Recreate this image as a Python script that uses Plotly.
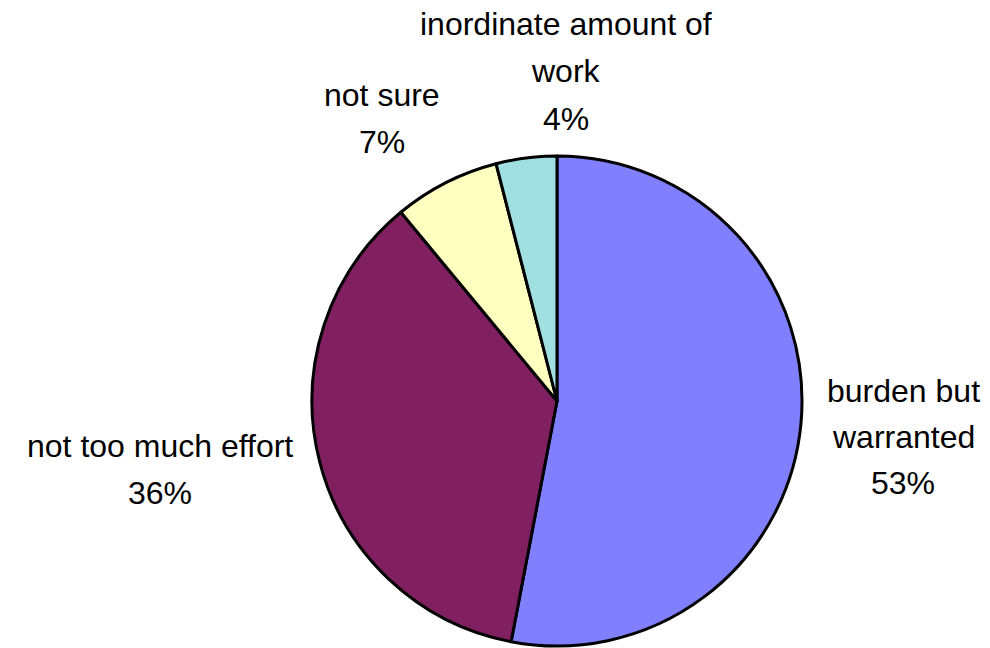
import plotly.graph_objects as go

# Survey responses (percent of respondents)
categories = ["burden but warranted", "not too much effort", "not sure", "inordinate amount of work"]
values = [53, 36, 7, 4]
colors = ["#8080FF", "#802060", "#FFFFC0", "#A0E0E0"]

# Label text broken into display lines
label_lines = [
    ["burden but", "warranted"],
    ["not too much effort"],
    ["not sure"],
    ["inordinate amount of", "work"],
]
# Label block anchors: centre x and first-line baseline (px), line step (px)
label_x = [903, 160, 382, 566]
label_base = [402, 457, 106, 35]
line_step = [46, 47, 47, 47.5]

W, H = 990, 648
FONT = 32

fig = go.Figure(
    go.Pie(
        labels=categories,
        values=values,
        sort=False,
        direction="clockwise",
        rotation=0,
        textinfo="none",
        hoverinfo="label+percent",
        marker=dict(colors=colors, line=dict(color="#000000", width=3)),
        domain=dict(x=[312 / W, 802 / W], y=[2 / H, 492 / H]),
        showlegend=False,
    )
)

annotations = []
for lines, v, cx, base, step in zip(label_lines, values, label_x, label_base, line_step):
    for i, txt in enumerate(lines + [f"{v}%"]):
        baseline = base + i * step
        annotations.append(
            dict(
                x=cx / W,
                y=(H - (baseline - 0.35 * FONT)) / H,
                xref="paper",
                yref="paper",
                text=txt,
                showarrow=False,
                xanchor="center",
                yanchor="middle",
                font=dict(family="Liberation Sans, Arial, sans-serif", size=FONT, color="#000000"),
            )
        )

fig.update_layout(
    width=W,
    height=H,
    margin=dict(l=0, r=0, t=0, b=0),
    paper_bgcolor="#FFFFFF",
    plot_bgcolor="#FFFFFF",
    annotations=annotations,
)

fig.write_html("out.html")
